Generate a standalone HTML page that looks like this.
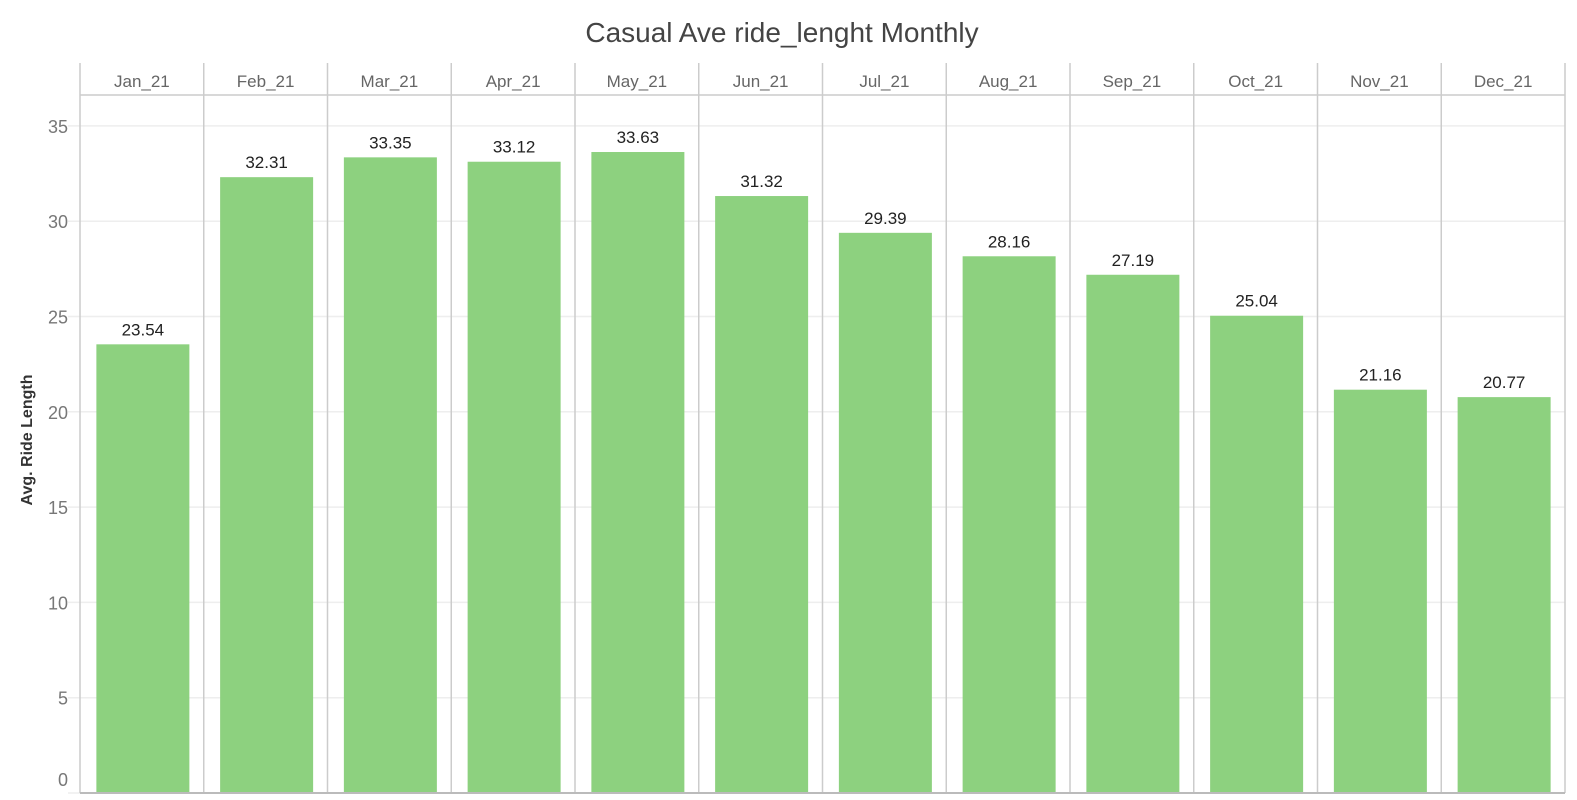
<!DOCTYPE html>
<html><head><meta charset="utf-8"><style>
body{margin:0;background:#fff;font-family:"Liberation Sans","DejaVu Sans",sans-serif}
</style></head><body>
<svg width="1577" height="795" xmlns="http://www.w3.org/2000/svg" id="c">
<text x="782" y="42" text-anchor="middle" font-size="28" fill="#444">Casual Ave ride_lenght Monthly</text>
<text transform="translate(32,440) rotate(-90)" text-anchor="middle" font-size="16" font-weight="bold" fill="#333">Avg. Ride Length</text>
</svg>
<script>
const months=["Jan_21","Feb_21","Mar_21","Apr_21","May_21","Jun_21","Jul_21","Aug_21","Sep_21","Oct_21","Nov_21","Dec_21"];
const values=[23.54,32.31,33.35,33.12,33.63,31.32,29.39,28.16,27.19,25.04,21.16,20.77];
const ticks=[0,5,10,15,20,25,30,35];
const svg=document.getElementById('c');const NS="http://www.w3.org/2000/svg";
const L=80,R=1565,T=95,B=793,H0=63;
const colW=(R-L)/months.length;
const y=v=>B-v*19.06;
const x=i=>L+i*colW;
function mk(t,a,txt){const e=document.createElementNS(NS,t);for(const k in a)e.setAttribute(k,a[k]);if(txt!==undefined)e.textContent=txt;svg.appendChild(e);return e;}
ticks.forEach(t=>{
 const g=mk('line',{x1:68,x2:R,y1:y(t),y2:y(t),stroke:'#eee','stroke-width':1.5});
 
 
 const lb=mk('text',{x:68,y:Math.min(y(t)+7,786),'text-anchor':'end','font-size':18,fill:'#777'},t);
 
 
});
months.forEach((m,i)=>{
 const h=mk('text',{x:x(i)+colW/2,y:87,'text-anchor':'middle','font-size':17,fill:'#666'},m);
 
 
 const bw=93,bx=x(i)+colW/2-bw/2+1;
 const r=mk('rect',{x:bx,y:y(values[i]),width:bw,height:B-y(values[i]),fill:'#8dd17f'});
 
 
 const v=mk('text',{x:bx+bw/2,y:y(values[i])-9,'text-anchor':'middle','font-size':17,fill:'#222'},values[i].toFixed(2));
 
 
});
for(let i=0;i<=months.length;i++){
 const l=mk('line',{x1:x(i),x2:x(i),y1:H0,y2:B,stroke:'#ccc','stroke-width':1.5});
 
 
}
const hb=mk('line',{x1:L,x2:R,y1:T,y2:T,stroke:'#ccc','stroke-width':1.5});


const bb=mk('line',{x1:L,x2:R,y1:B,y2:B,stroke:'#bbb','stroke-width':2});


</script>
</body></html>
